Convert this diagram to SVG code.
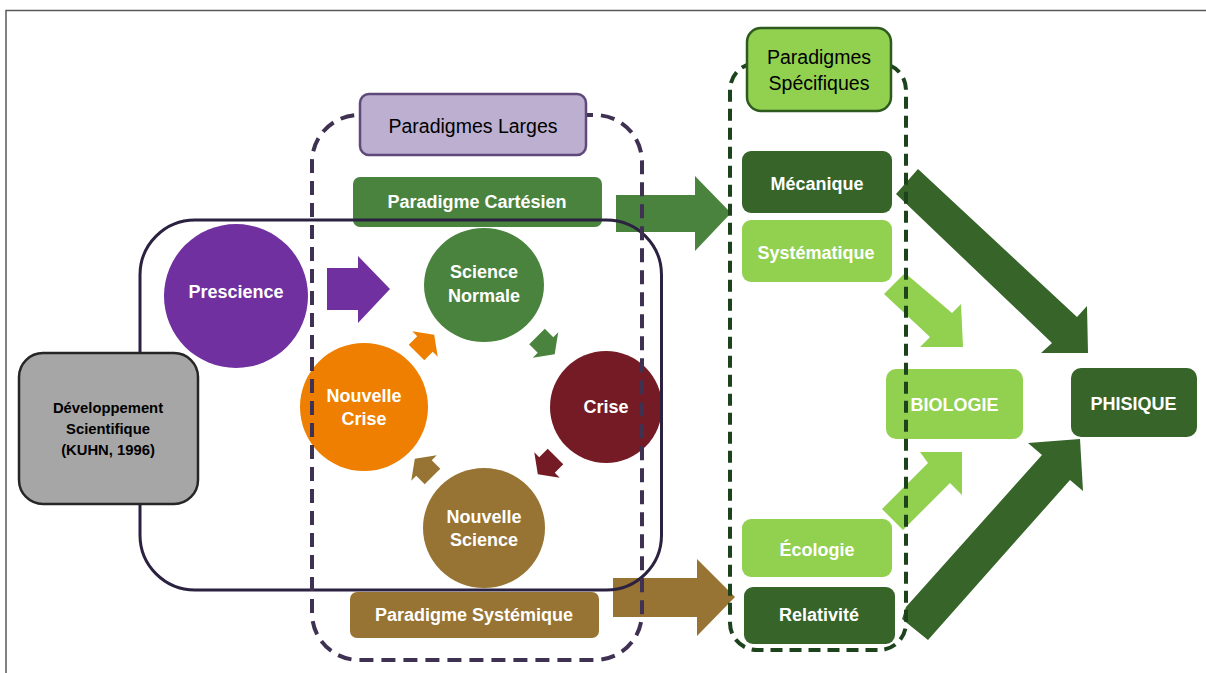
<svg xmlns="http://www.w3.org/2000/svg" width="1206" height="673" viewBox="0 0 1206 673">
<defs>
<style>
text{font-family:"Liberation Sans",Arial,sans-serif;text-anchor:middle}
.w{fill:#fff;font-weight:bold;font-size:18px}
.k{fill:#000;font-size:19.5px}
.kb{fill:#000;font-weight:bold;font-size:14.8px}
.dk{fill:#366429}
.lt{fill:#92D050}
.dash{fill:none;stroke-width:4}
</style>
<polygon id="sa" points="-12,-11 0,-11 0,-18 13,0 0,18 0,11 -12,11"/>
</defs>
<rect width="1206" height="673" fill="#fff"/>
<path d="M6,673 V10.5 H1206" fill="none" stroke="#5a5a5a" stroke-width="1.5"/>

<g id="paradigme-cartesien"><rect x="353" y="177" width="249" height="50" rx="7" fill="#4A833E"/><text class="w" x="477" y="208" font-size="17.5">Paradigme Cartésien</text></g>
<g id="paradigme-systemique"><rect x="350" y="592" width="249" height="46" rx="7" fill="#977433"/><text class="w" x="474" y="621" font-size="17.5">Paradigme Systémique</text></g>

<g id="connectors">
<polygon points="327,268 358,268 358,256 390,289 358,323 358,310 327,310" fill="#7030A0"/>
<polygon points="616,195 695,195 695,176 731,213 695,251 695,232 616,232" fill="#4A833E"/>
<polygon points="613,578 697,578 697,559 735,597 697,636 697,617 613,617" fill="#977433"/>
<use href="#sa" transform="translate(425,344) rotate(-45)" fill="#EE7F00"/>
<use href="#sa" transform="translate(545.5,345) rotate(45)" fill="#4A833E"/>
<use href="#sa" transform="translate(547,465) rotate(135)" fill="#741B25"/>
<use href="#sa" transform="translate(424,468) rotate(-135)" fill="#977433"/>
<polygon points="918,169 1077,317 1087,306 1088,353 1041,353 1052,343 896,194" fill="#366429"/>
<polygon points="906,607 1042,455 1028,443 1080,439 1083,491 1070,480 928,640 902,619" fill="#366429"/>
<polygon points="905,273 952,313 961,304 963,347 920,347 930,337 884,294" fill="#92D050"/>
<polygon points="882,509 928,463 920,452 962,452 962,495 950,483 903,530" fill="#92D050"/>
</g>

<g id="prescience"><circle cx="236" cy="296" r="72" fill="#7030A0"/><text class="w" x="236" y="297.5">Prescience</text></g>
<g id="science-normale"><ellipse cx="484" cy="285" rx="60" ry="57" fill="#4A833E"/><text class="w" x="484" y="278">Science</text><text class="w" x="484" y="301.5">Normale</text></g>
<g id="nouvelle-crise"><circle cx="364" cy="407" r="64" fill="#EE7F00"/><text class="w" x="364" y="401.5">Nouvelle</text><text class="w" x="364" y="424.5">Crise</text></g>
<g id="crise"><circle cx="606" cy="407" r="56" fill="#741B25"/><text class="w" x="606" y="412.5">Crise</text></g>
<g id="nouvelle-science"><ellipse cx="484" cy="528" rx="61" ry="60" fill="#977433"/><text class="w" x="484" y="522.5">Nouvelle</text><text class="w" x="484" y="546">Science</text></g>

<g id="kuhn-cycle-frame"><rect x="140" y="220" width="521.5" height="370" rx="55" fill="none" stroke="#2B2140" stroke-width="3"/></g>

<g id="developpement"><rect x="19" y="353" width="179" height="151" rx="24" fill="#A6A6A6" stroke="#262626" stroke-width="2.5"/>
<text class="kb" x="108" y="413">Développement</text><text class="kb" x="108" y="433.5">Scientifique</text><text class="kb" x="108" y="455">(KUHN, 1996)</text></g>

<g id="mecanique"><rect x="742" y="151" width="150" height="62" rx="9" class="dk"/><text class="w" x="817" y="189.5" font-size="19.5">Mécanique</text></g>
<g id="systematique"><rect x="742" y="220" width="150" height="62" rx="9" class="lt"/><text class="w" x="816" y="258.8" font-size="18.5">Systématique</text></g>
<g id="ecologie"><rect x="742" y="519" width="150" height="58" rx="9" class="lt"/><text class="w" x="817" y="555.8" font-size="18.5">Écologie</text></g>
<g id="relativite"><rect x="744" y="587" width="151" height="57" rx="9" class="dk"/><text class="w" x="819" y="621.2">Relativité</text></g>
<g id="biologie"><rect x="886" y="369" width="137" height="70" rx="10" class="lt"/><text class="w" x="954.5" y="411.2" font-size="18.5">BIOLOGIE</text></g>
<g id="phisique"><rect x="1071" y="368" width="126" height="69" rx="10" class="dk"/><text class="w" x="1133.5" y="410" font-size="19">PHISIQUE</text></g>

<g id="paradigmes-larges">
<rect x="312" y="115" width="330" height="545" rx="47" class="dash" stroke="#3F3151" stroke-dasharray="14 8"/>
<rect x="360" y="94" width="226" height="61" rx="9" fill="#BCAFCF" stroke="#5F497A" stroke-width="2.5"/>
<text class="k" x="473" y="133">Paradigmes Larges</text>
</g>
<g id="paradigmes-specifiques">
<rect x="730" y="63" width="176" height="587" rx="27" class="dash" stroke="#1D431C" stroke-dasharray="12 7"/>
<rect x="747" y="28" width="144" height="83" rx="14" fill="#92D050" stroke="#2E5A20" stroke-width="2.5"/>
<text class="k" x="819" y="63.5">Paradigmes</text><text class="k" x="819" y="90">Spécifiques</text>
</g>
</svg>
